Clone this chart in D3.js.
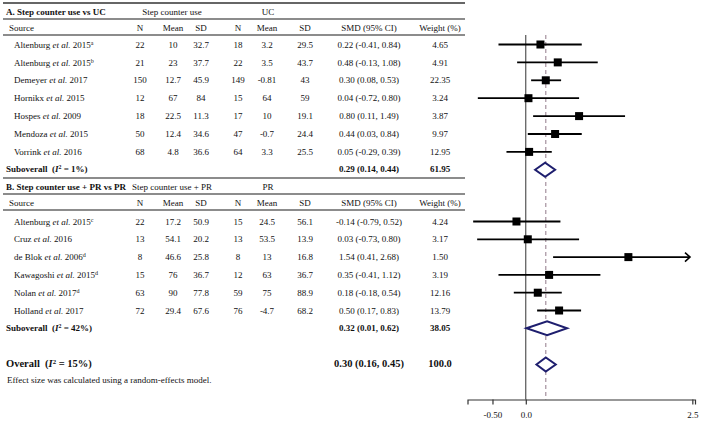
<!DOCTYPE html>
<html><head><meta charset="utf-8">
<script src="https://cdn.jsdelivr.net/npm/d3@7"></script>
<style>
body{margin:0;background:#fff;}
svg{display:block;font-family:"Liberation Serif","Times New Roman",serif;}
</style></head><body>
<svg id="c" width="701" height="421"></svg>
<script>
// ---------- Data ----------
const sourcesA = ["Altenburg","Altenburg","Demeyer","Hornikx","Hospes","Mendoza","Vorrink"];
const yearsA   = ["2015","2015","2017","2015","2009","2015","2016"];
const notesA   = ["a","b","","","","",""];
const nA1    = [22,21,150,12,18,50,68];
const meanA1 = [10,23,12.7,67,22.5,12.4,4.8];
const sdA1   = [32.7,37.7,45.9,84,11.3,34.6,36.6];
const nA2    = [18,22,149,15,17,47,64];
const meanA2 = [3.2,3.5,-0.81,64,10,-0.7,3.3];
const sdA2   = [29.5,43.7,43,59,19.1,24.4,25.5];
const smdA   = [0.22,0.48,0.30,0.04,0.80,0.44,0.05];
const loA    = [-0.41,-0.13,0.08,-0.72,0.11,0.03,-0.29];
const hiA    = [0.84,1.08,0.53,0.80,1.49,0.84,0.39];
const wA     = ["4.65","4.91","22.35","3.24","3.87","9.97","12.95"];
const subA   = {smd:0.29, lo:0.14, hi:0.44, w:"61.95", i2:"1%"};

const sourcesB = ["Altenburg","Cruz","de Blok","Kawagoshi","Nolan","Holland"];
const yearsB   = ["2015","2016","2006","2015","2017","2017"];
const notesB   = ["c","","d","d","d",""];
const nB1    = [22,13,8,15,63,72];
const meanB1 = [17.2,54.1,46.6,76,90,29.4];
const sdB1   = [50.9,20.2,25.8,36.7,77.8,67.6];
const nB2    = [15,13,8,12,59,76];
const meanB2 = [24.5,53.5,13,63,75,-4.7];
const sdB2   = [56.1,13.9,16.8,36.7,88.9,68.2];
const smdB   = [-0.14,0.03,1.54,0.35,0.18,0.50];
const loB    = [-0.79,-0.73,0.41,-0.41,-0.18,0.17];
const hiB    = [0.52,0.80,2.68,1.12,0.54,0.83];
const wB     = ["4.24","3.17","1.50","3.19","12.16","13.79"];
const subB   = {smd:0.32, lo:0.01, hi:0.62, w:"38.05", i2:"42%"};

const overall = {smd:0.30, lo:0.16, hi:0.45, w:"100.0", i2:"15%"};
const tickVals = [-0.5, 0, 2.5];
const tickLabels = ["-0.50","0.0","2.5"];

// ---------- Layout ----------
const svg = d3.select("#c");
const f2 = v => d3.format(".2f")(v).replace("\u2212","-");
const ciText = (m,l,h) => `${f2(m)} (${f2(l)}, ${f2(h)})`;
const x = d3.scaleLinear().domain([-0.875, 2.54]).range([467.5, 695]);
const xClip = 690;

const colX = {n1:140, m1:173, s1:201, n2:238, m2:267, s2:305, smd:369, w:440};
const lineCol = "#666";
const FS = 9;

function hline(y, w){
  svg.append("line").attr("x1",3).attr("x2",465).attr("y1",y).attr("y2",y)
    .attr("stroke",lineCol).attr("stroke-width",w||1.3);
}
function txt(xp, y, s, opts={}){
  const t = svg.append("text").attr("x",xp).attr("y",y).attr("dy","0.35em")
    .attr("font-size",opts.size||FS).attr("fill","#111")
    .attr("text-anchor",opts.anchor||"middle");
  if(opts.bold) t.attr("font-weight","bold");
  t.text(s);
  return t;
}
function sourceLabel(y, name, year, note){
  const t = svg.append("text").attr("x",14).attr("y",y).attr("dy","0.35em")
    .attr("font-size",FS).attr("fill","#111");
  t.append("tspan").text(name+" ");
  t.append("tspan").attr("font-style","italic").text("et al.");
  t.append("tspan").text(" "+year);
  if(note) t.append("tspan").attr("font-size",6).attr("baseline-shift","super").text(note);
}
function i2Label(y, label, i2, size){
  const t = svg.append("text").attr("x",6).attr("y",y).attr("dy","0.35em")
    .attr("font-size",size).attr("font-weight","bold").attr("fill","#111");
  t.append("tspan").text(label+"\u00a0\u00a0(");
  t.append("tspan").attr("font-style","italic").text("I");
  t.append("tspan").attr("font-size",size*0.65).attr("baseline-shift","super").text("2");
  t.append("tspan").text(" = "+i2+")");
}
function diamond(y, d){
  const h = 7;
  svg.append("path")
    .attr("d",`M${x(d.lo)},${y} L${x(d.smd)},${y-h} L${x(d.hi)},${y} L${x(d.smd)},${y+h} Z`)
    .attr("fill","#fff").attr("stroke","#1e1e6e").attr("stroke-width",2);
}

// reference lines
const yTop = 35, yAxis = 399.5;
svg.append("line").attr("x1",x(0)).attr("x2",x(0)).attr("y1",yTop).attr("y2",yAxis)
  .attr("stroke","#333").attr("stroke-width",1);
svg.append("line").attr("x1",x(overall.smd)).attr("x2",x(overall.smd)).attr("y1",yTop).attr("y2",yAxis)
  .attr("stroke","#a4909e").attr("stroke-width",1.2).attr("stroke-dasharray","4,3");

function group(cfg){
  const {y0, title, hdr1, hdr2, src, yrs, notes, n1, m1, s1, n2, m2, s2, smd, lo, hi, w, sub} = cfg;
  hline(y0-9, cfg.topW||1.3);
  txt(6, y0, title, {anchor:"start", bold:true});
  txt(172, y0, hdr1);
  txt(268, y0, hdr2);
  hline(y0+7);
  const yS = y0+15.5;
  txt(9, yS, "Source", {anchor:"start"});
  [["n1","N"],["m1","Mean"],["s1","SD"],["n2","N"],["m2","Mean"],["s2","SD"],["smd","SMD (95% CI)"],["w","Weight (%)"]]
    .forEach(([k,l]) => txt(colX[k], yS, l));
  hline(y0+23);
  const rowY = i => cfg.r0 + i*cfg.step;
  src.forEach((s,i) => {
    const y = rowY(i);
    sourceLabel(y, s, yrs[i], notes[i]);
    txt(colX.n1,y,String(n1[i])); txt(colX.m1,y,String(m1[i])); txt(colX.s1,y,String(s1[i]));
    txt(colX.n2,y,String(n2[i])); txt(colX.m2,y,String(m2[i])); txt(colX.s2,y,String(s2[i]));
    txt(colX.smd,y,ciText(smd[i],lo[i],hi[i])); txt(colX.w,y,w[i]);
    // CI line
    const xe = Math.min(x(hi[i]), xClip);
    svg.append("line").attr("x1",x(lo[i])).attr("x2",xe).attr("y1",y).attr("y2",y)
      .attr("stroke","#000").attr("stroke-width",1.8);
    if(x(hi[i]) > xClip){
      svg.append("path").attr("d",`M${xClip-5},${y-4.5} L${xClip},${y} L${xClip-5},${y+4.5}`)
        .attr("fill","none").attr("stroke","#000").attr("stroke-width",1.6);
    }
    svg.append("rect").attr("x",x(smd[i])-4).attr("y",y-4).attr("width",8).attr("height",8).attr("fill","#000");
  });
  const yB = rowY(src.length) - 0.5;
  i2Label(yB, "Suboverall", sub.i2, FS);
  txt(colX.smd, yB, ciText(sub.smd, sub.lo, sub.hi), {bold:true});
  txt(colX.w, yB, sub.w, {bold:true});
  diamond(yB+0.5, sub);
}

group({y0:12, topW:2, title:"A. Step counter use vs UC", hdr1:"Step counter use", hdr2:"UC",
  src:sourcesA, yrs:yearsA, notes:notesA, n1:nA1, m1:meanA1, s1:sdA1, n2:nA2, m2:meanA2, s2:sdA2,
  smd:smdA, lo:loA, hi:hiA, w:wA, sub:subA, r0:44.5, step:17.9});
group({y0:187, title:"B. Step counter use + PR vs PR", hdr1:"Step counter use + PR", hdr2:"PR",
  src:sourcesB, yrs:yearsB, notes:notesB, n1:nB1, m1:meanB1, s1:sdB1, n2:nB2, m2:meanB2, s2:sdB2,
  smd:smdB, lo:loB, hi:hiB, w:wB, sub:subB, r0:221.5, step:17.8});

// overall
const yO = 363;
i2Label(yO, "Overall", overall.i2, 10.5);
txt(colX.smd, yO, ciText(overall.smd, overall.lo, overall.hi), {bold:true, size:10.5});
txt(colX.w, yO, overall.w, {bold:true, size:10.5});
diamond(yO+1.5, overall);

svg.append("text").attr("x",7).attr("y",380).attr("dy","0.35em").attr("font-size",FS).attr("fill","#111")
  .text("Effect size was calculated using a random-effects model.");

// axis
const ax = svg.append("g").attr("transform",`translate(0,${yAxis})`)
  .call(d3.axisBottom(x).tickValues(tickVals).tickSizeOuter(0).tickSize(5)
    .tickFormat((d,i)=>tickLabels[i]));
ax.select(".domain").attr("stroke","#333").attr("stroke-width",1.2);
ax.selectAll(".tick line").attr("stroke","#333").attr("stroke-width",1.2);
ax.selectAll(".tick text").attr("font-family","Liberation Serif, serif").attr("font-size",FS)
  .attr("fill","#111").attr("y",12);
</script>
</body></html>
